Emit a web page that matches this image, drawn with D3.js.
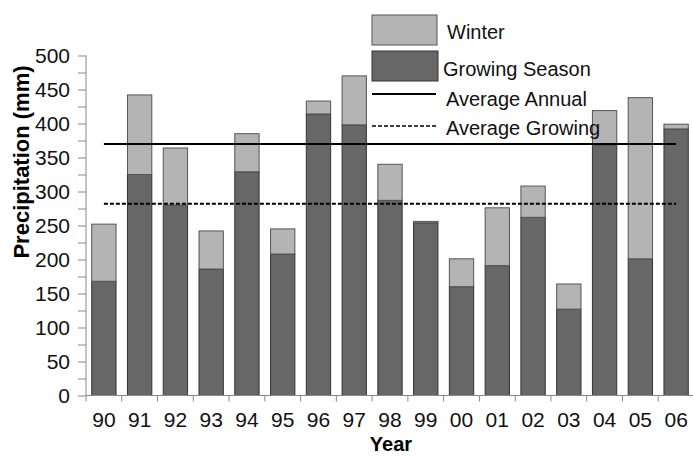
<!DOCTYPE html>
<html>
<head>
<meta charset="utf-8">
<script src="https://cdn.jsdelivr.net/npm/d3@7"></script>
<style>
  body { margin: 0; background: #fff; }
  text { font-family: "Liberation Sans", Arial, sans-serif; }
</style>
</head>
<body>
<div id="chart"></div>
<script>
// Data
var years = ["90", "91", "92", "93", "94", "95", "96", "97", "98", "99", "00", "01", "02", "03", "04", "05", "06"];
var growing = [168, 325, 280, 186, 329, 208, 414, 398, 287, 254, 160, 191, 262, 127, 368, 201, 392];
var winter = [84, 117, 84, 56, 56, 37, 19, 72, 53, 2, 41, 85, 46, 37, 51, 237, 7];
var avgAnnual = 370;
var avgGrowing = 282;
var yTicks = [0, 50, 100, 150, 200, 250, 300, 350, 400, 450, 500];

// SVG dimensions
var svgWidth = 693;
var svgHeight = 456;

var svg = d3.select("#chart")
    .append("svg")
    .attr("width", svgWidth)
    .attr("height", svgHeight);

// Scales
var x = d3.scaleBand()
    .domain(years)
    .range([86, 694])
    .paddingInner(0.32)
    .paddingOuter(0.16);

var y = d3.scaleLinear()
    .domain([0, 500])
    .range([395.5, 55.5]);

var dark = "#676767";
var light = "#b4b4b4";

// Stacked bars
var rows = years.map(function (yr, i) {
    return { year: yr, growing: growing[i], winter: winter[i] };
});

svg.append("g").selectAll("rect")
    .data(rows)
    .enter()
    .append("rect")
    .attr("x", d => x(d.year))
    .attr("y", d => y(d.growing))
    .attr("width", x.bandwidth())
    .attr("height", d => y(0) - y(d.growing))
    .attr("fill", dark)
    .attr("stroke", "#333")
    .attr("stroke-width", 1);

svg.append("g").selectAll("rect")
    .data(rows)
    .enter()
    .append("rect")
    .attr("x", d => x(d.year))
    .attr("y", d => y(d.growing + d.winter))
    .attr("width", x.bandwidth())
    .attr("height", d => y(d.growing) - y(d.growing + d.winter))
    .attr("fill", light)
    .attr("stroke", "#555")
    .attr("stroke-width", 1);

// Y axis
var leftAxis = d3.axisLeft(y)
    .tickValues(d3.range(0, 501, 25))
    .tickSize(8)
    .tickPadding(8)
    .tickFormat(d => yTicks.indexOf(d) >= 0 ? d : "");

var gy = svg.append("g")
    .attr("transform", "translate(86,0)")
    .call(leftAxis);
gy.select(".domain").attr("stroke", "#888").attr("d", "M0," + y(500) + "V" + y(0));
gy.selectAll(".tick line").attr("stroke", "#888");
gy.selectAll(".tick text")
    .attr("font-size", "21px")
    .attr("font-family", "Liberation Sans, Arial, sans-serif")
    .attr("fill", "#111");

// X axis
var bottomAxis = d3.axisBottom(x).tickSize(0).tickPadding(17);
var gx = svg.append("g")
    .attr("transform", "translate(0," + y(0) + ")")
    .call(bottomAxis);
gx.select(".domain").attr("stroke", "#888").attr("d", "M86,0H693");
gx.selectAll(".tick text")
    .attr("font-size", "21px")
    .attr("font-family", "Liberation Sans, Arial, sans-serif")
    .attr("fill", "#111");

// ticks between categories
svg.append("g").selectAll("line")
    .data(d3.range(years.length + 1))
    .enter()
    .append("line")
    .attr("x1", i => 86 + i * x.step())
    .attr("x2", i => 86 + i * x.step())
    .attr("y1", y(0))
    .attr("y2", y(0) + 6)
    .attr("stroke", "#888");

// Average lines
var first = x(years[0]) + x.bandwidth() / 2;
var last = x(years[years.length - 1]) + x.bandwidth() / 2;

svg.append("line")
    .attr("x1", first).attr("x2", last)
    .attr("y1", y(avgAnnual)).attr("y2", y(avgAnnual))
    .attr("stroke", "#000")
    .attr("stroke-width", 2);

svg.append("line")
    .attr("x1", first).attr("x2", last)
    .attr("y1", y(avgGrowing)).attr("y2", y(avgGrowing))
    .attr("stroke", "#000")
    .attr("stroke-width", 2)
    .attr("stroke-dasharray", "4,2");

// Axis titles
svg.append("text")
    .attr("x", 391)
    .attr("y", 451)
    .attr("text-anchor", "middle")
    .attr("font-size", "20px")
    .attr("font-weight", "bold")
    .text("Year");

svg.append("text")
    .attr("transform", "translate(29,162) rotate(-90)")
    .attr("text-anchor", "middle")
    .attr("font-size", "22px")
    .attr("font-weight", "bold")
    .text("Precipitation (mm)");

// Legend
var legend = svg.append("g");

legend.append("rect")
    .attr("x", 372).attr("y", 15).attr("width", 65).attr("height", 30)
    .attr("fill", light).attr("stroke", "#555");
legend.append("rect")
    .attr("x", 372).attr("y", 51).attr("width", 66).attr("height", 30)
    .attr("fill", dark).attr("stroke", "#333");
legend.append("line")
    .attr("x1", 372).attr("x2", 436).attr("y1", 94).attr("y2", 94)
    .attr("stroke", "#000").attr("stroke-width", 2);
legend.append("line")
    .attr("x1", 372).attr("x2", 438).attr("y1", 126).attr("y2", 126)
    .attr("stroke", "#000").attr("stroke-width", 1.5)
    .attr("stroke-dasharray", "4,2");

var labels = [["Winter", 447, 32], ["Growing Season", 443, 69], ["Average Annual", 446, 99], ["Average Growing", 446, 128]];
legend.selectAll("text")
    .data(labels)
    .enter()
    .append("text")
    .attr("x", d => d[1])
    .attr("y", d => d[2])
    .attr("dy", "0.35em")
    .attr("font-size", "20px")
    .attr("fill", "#111")
    .text(d => d[0]);
</script>
</body>
</html>
